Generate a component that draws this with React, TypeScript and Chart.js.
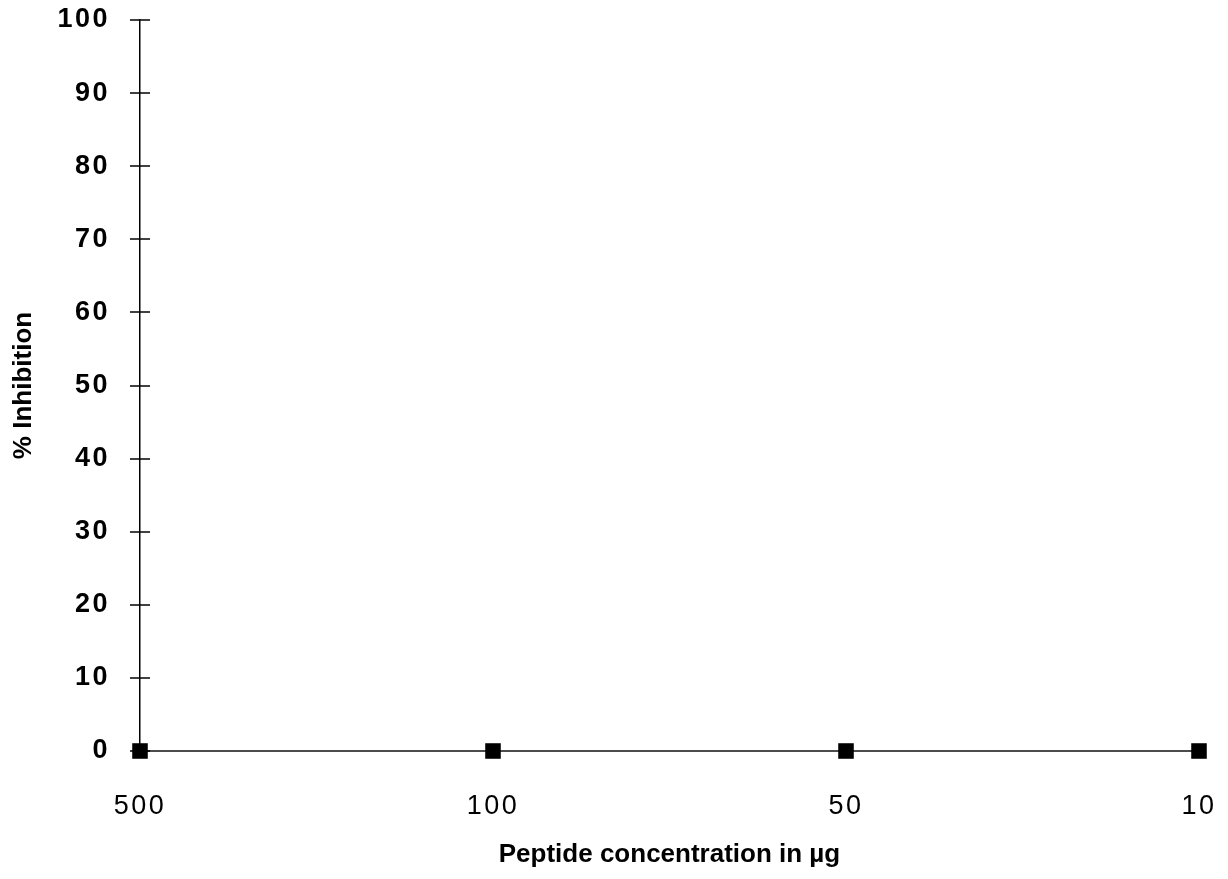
import React, { useEffect, useRef } from "react";
import { Chart, registerables } from "chart.js";

Chart.register(...registerables);

const categories = ["500", "100", "50", "10"];
const inhibitionValues = [0, 0, 0, 0];
const yMin = 0;
const yMax = 100;
const yStep = 10;

const FONT = "'Liberation Sans', Arial, Helvetica, sans-serif";

const crossTicksPlugin = {
  id: "crossTicks",
  afterDatasetsDraw(chart: any) {
    const ctx = chart.ctx;
    const y = chart.scales.y;
    const x0 = chart.chartArea.left;
    ctx.save();
    ctx.strokeStyle = "#000";
    ctx.lineWidth = 1.5;
    y.ticks.forEach((t: any) => {
      const py = Math.round(y.getPixelForValue(t.value));
      ctx.beginPath();
      ctx.moveTo(x0 - 10, py);
      ctx.lineTo(x0 + 10, py);
      ctx.stroke();
    });
    ctx.restore();
    // letter spacing for tick labels (drawn after datasets)
    (ctx as any).letterSpacing = "2.5px";
  },
  afterDraw(chart: any) {
    (chart.ctx as any).letterSpacing = "0px";
  },
};

export default function App() {
  const ref = useRef<HTMLCanvasElement | null>(null);

  useEffect(() => {
    if (!ref.current) return;
    const chart = new Chart(ref.current, {
      type: "line",
      data: {
        labels: categories,
        datasets: [
          {
            data: inhibitionValues,
            borderColor: "#111",
            borderWidth: 1.5,
            backgroundColor: "#000",
            pointStyle: "rect",
            pointRadius: 11,
            pointBorderWidth: 0,
            pointBackgroundColor: "#000",
            tension: 0,
            clip: false as any,
          },
        ],
      },
      options: {
        responsive: false,
        animation: false,
        layout: { padding: { top: 12, right: 21, bottom: 0, left: 0 } },
        plugins: {
          legend: { display: false },
          tooltip: { enabled: false },
        },
        scales: {
          x: {
            type: "category",
            offset: false,
            grid: { display: false, drawTicks: false },
            border: { display: false },
            ticks: {
              z: 1,
              padding: 39,
              color: "#000",
              maxRotation: 0,
              autoSkip: false,
              font: { family: FONT, size: 27 },
            },
            title: {
              display: true,
              text: "Peptide concentration in µg",
              color: "#000",
              font: { family: FONT, size: 26, weight: "bold" },
              padding: { top: 0, bottom: 1 },
            },
            afterFit: (s: any) => {
              s.height = 120;
              s.paddingLeft = 0;
              s.paddingRight = 0;
            },
          },
          y: {
            min: yMin,
            max: yMax,
            grid: { display: false, drawTicks: false },
            border: { display: true, color: "#000", width: 1.5 },
            ticks: {
              z: 1,
              stepSize: yStep,
              padding: 30,
              color: "#000",
              font: { family: FONT, size: 27, weight: "bold" },
            },
            title: {
              display: true,
              text: "% Inhibition",
              color: "#000",
              font: { family: FONT, size: 26, weight: "bold" },
              padding: { top: 0, bottom: 0 },
            },
            afterFit: (s: any) => {
              s.width = 132;
              s.paddingTop = 0;
              s.paddingBottom = 0;
            },
          },
        },
      },
      plugins: [crossTicksPlugin],
    });
    return () => chart.destroy();
  }, []);

  return <canvas ref={ref} width={1212} height={863} style={{ display: "block" }} />;
}
